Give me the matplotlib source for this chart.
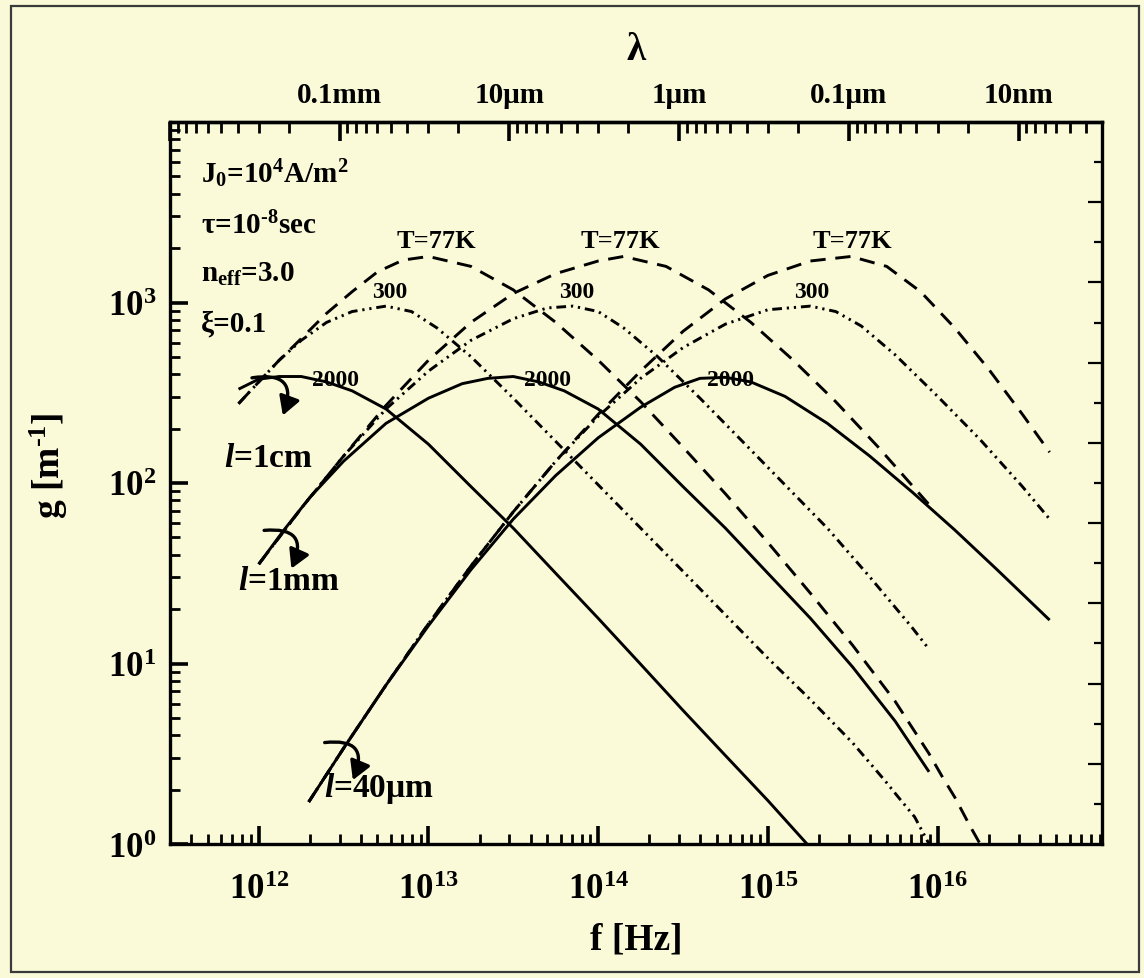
import matplotlib
matplotlib.use("Agg")
import matplotlib.pyplot as plt
import numpy as np
from matplotlib.patches import Rectangle, FancyArrowPatch
from matplotlib.ticker import LogLocator, NullFormatter

plt.rcParams['font.family'] = ['Liberation Serif', 'DejaVu Serif']
plt.rcParams['font.weight'] = 'bold'
plt.rcParams['axes.labelweight'] = 'bold'
plt.rcParams['mathtext.fontset'] = 'custom'
plt.rcParams['mathtext.rm'] = 'Liberation Serif:bold'
plt.rcParams['mathtext.bf'] = 'Liberation Serif:bold'
plt.rcParams['mathtext.it'] = 'Liberation Serif:italic:bold'
plt.rcParams['lines.scale_dashes'] = False

BG = '#FAFAD8'

# ---------------- data (f in Hz, g in 1/m) ----------------
# l = 1 cm
f_1cm_2000 = [7.6e11, 1e12, 1.32e12, 1.78e12, 2.51e12, 3.55e12, 5.62e12, 1e13, 1.78e13, 3.16e13, 5.62e13,
              1e14, 1.78e14, 3.16e14, 5.62e14, 1e15, 1.7e15]
g_1cm_2000 = [331, 376, 389, 389, 363, 324, 257, 164, 95.5, 56.2, 31.6, 17.8, 9.9, 5.5, 3.09, 1.74, 1.0]
f_1cm_300 = [7.6e11, 1e12, 1.32e12, 1.78e12, 2.51e12, 3.55e12, 5.62e12, 7.94e12, 1.12e13, 1.78e13, 3.16e13,
             5.62e13, 1e14, 1.78e14, 3.16e14, 5.62e14, 1e15, 1.78e15, 3.16e15, 4.9e15, 5.75e15, 7.33e15, 8.9e15]
g_1cm_300 = [275, 363, 479, 617, 776, 891, 955, 891, 724, 501, 295, 170, 97.7, 56.2, 32.4, 18.6, 10.7, 6.31,
             3.63, 2.24, 1.86, 1.41, 1.0]
f_1cm_77 = [7.6e11, 1e12, 1.32e12, 1.78e12, 2.51e12, 3.55e12, 5.01e12, 7.08e12, 1e13, 1.78e13, 3.16e13, 5.62e13,
            1e14, 1.78e14, 3.16e14, 5.62e14, 1e15, 1.78e15, 3.16e15, 5.62e15, 8.91e15, 1.07e16, 1.26e16,
            1.55e16, 1.78e16]
g_1cm_77 = [275, 363, 479, 631, 871, 1148, 1479, 1718, 1799, 1585, 1175, 776, 479, 282, 158, 87.1, 46.8, 24.5,
            12.6, 6.17, 3.16, 2.34, 1.82, 1.26, 1.0]

# l = 1 mm
f_1mm_2000 = [1e12, 1.41e12, 2e12, 3.16e12, 5.62e12, 1e13, 1.58e13, 2.24e13, 3.16e13, 4.47e13, 6.31e13, 1e14,
              1.78e14, 3.16e14, 5.62e14, 1e15, 1.78e15, 3.16e15, 5.62e15, 8.9e15]
g_1mm_2000 = [35.5, 55, 83.2, 132, 214, 295, 355, 380, 389, 363, 324, 257, 164, 95.5, 56.2, 31.6, 17.8, 9.55,
              4.79, 2.51]
f_1mm_300 = [1e12, 1.78e12, 3.16e12, 5.62e12, 1e13, 1.78e13, 3.16e13, 5.01e13, 7.08e13, 1e14, 1.41e14, 2.24e14,
             3.98e14, 7.08e14, 1.26e15, 2.24e15, 3.98e15, 7.08e15, 8.9e15]
g_1mm_300 = [35.5, 72.4, 141, 257, 417, 617, 813, 933, 955, 891, 724, 501, 295, 170, 97.7, 56.2, 30.2, 15.8, 12.0]
f_1mm_77 = [1e12, 1.78e12, 3.16e12, 5.62e12, 1e13, 1.78e13, 3.16e13, 5.62e13, 1e14, 1.41e14, 2.51e14, 4.47e14,
            7.94e14, 1.41e15, 2.51e15, 4.47e15, 8.9e15]
g_1mm_77 = [35.5, 72.4, 141, 269, 479, 776, 1122, 1445, 1698, 1799, 1585, 1175, 776, 479, 282, 158, 75.9]

# l = 40 um
f_40um_2000 = [1.97e12, 3.16e12, 5.62e12, 1e13, 1.78e13, 3.16e13, 5.62e13, 1e14, 1.78e14, 2.82e14, 3.98e14,
               5.62e14, 7.94e14, 1.26e15, 2.24e15, 3.98e15, 7.08e15, 1.26e16, 2.24e16, 4.57e16]
g_40um_2000 = [1.71, 3.39, 7.59, 16.2, 33.1, 63.1, 110, 178, 263, 339, 380, 385, 363, 302, 214, 141, 89.1, 55,
               33.1, 17.4]
f_40um_300 = [1.97e12, 3.16e12, 5.62e12, 1e13, 1.78e13, 3.16e13, 5.62e13, 1e14, 1.78e14, 3.16e14, 5.62e14, 1e15,
              1.78e15, 2.51e15, 3.55e15, 5.62e15, 1e16, 1.78e16, 3.16e16, 4.57e16]
g_40um_300 = [1.71, 3.39, 7.59, 16.6, 34.7, 69.2, 132, 234, 380, 562, 759, 912, 955, 891, 741, 513, 302, 174,
              95.5, 63.1]
f_40um_77 = [1.97e12, 3.16e12, 5.62e12, 1e13, 1.78e13, 3.16e13, 5.62e13, 1e14, 1.78e14, 3.16e14, 5.62e14, 1e15,
             1.78e15, 3.09e15, 5.01e15, 7.94e15, 1.26e16, 2e16, 3.16e16, 4.57e16]
g_40um_77 = [1.71, 3.39, 7.59, 16.6, 34.7, 69.2, 132, 240, 417, 692, 1047, 1413, 1698, 1799, 1585, 1148, 724,
             427, 240, 148]

x_ticks = [1e12, 1e13, 1e14, 1e15, 1e16]
x_tick_labels = [r'10$^{\mathregular{12}}$', r'10$^{\mathregular{13}}$', r'10$^{\mathregular{14}}$',
                 r'10$^{\mathregular{15}}$', r'10$^{\mathregular{16}}$']
y_ticks = [1, 10, 100, 1000]
y_tick_labels = [r'10$^{\mathregular{0}}$', r'10$^{\mathregular{1}}$', r'10$^{\mathregular{2}}$',
                 r'10$^{\mathregular{3}}$']
lam_ticks = [1e-3, 1e-4, 1e-5, 1e-6, 1e-7, 1e-8]
lam_tick_labels = ['', '0.1mm', '10μm', '1μm', '0.1μm', '10nm']
c_light = 3e8

# ---------------- figure ----------------
fig = plt.figure(figsize=(11.44, 9.79), dpi=100, facecolor=BG)
fig.patches.append(Rectangle((11/1144, 6/979), 1128/1144, 966/979, transform=fig.transFigure,
                             fill=False, edgecolor='#3a3a3a', linewidth=1.6))
ax = fig.add_axes([170/1144, 1 - 845/979, 932/1144, 722/979])
ax.set_facecolor(BG)
ax.set_xscale('log')
ax.set_yscale('log')
ax.set_xlim(3e11, 9.3e16)
ax.set_ylim(1, 1e4)

lw = 2.1
dash = (0, (11, 7))
dashdotdot = (0, (7, 3.5, 1.6, 3.5, 1.6, 3.5))
series = [
    (f_1cm_2000, g_1cm_2000, '-'), (f_1cm_300, g_1cm_300, dashdotdot), (f_1cm_77, g_1cm_77, dash),
    (f_1mm_2000, g_1mm_2000, '-'), (f_1mm_300, g_1mm_300, dashdotdot), (f_1mm_77, g_1mm_77, dash),
    (f_40um_2000, g_40um_2000, '-'), (f_40um_300, g_40um_300, dashdotdot), (f_40um_77, g_40um_77, dash),
]
for fx, gy, ls in series:
    ax.plot(fx, gy, color='black', linestyle=ls, linewidth=lw, solid_capstyle='butt',
            solid_joinstyle='round')

for sp in ax.spines.values():
    sp.set_linewidth(2.4)

ax.set_xticks(x_ticks)
ax.set_xticklabels(x_tick_labels, fontsize=25)
ax.xaxis.set_minor_locator(LogLocator(base=10, subs=np.arange(2, 10), numticks=20))
ax.xaxis.set_minor_formatter(NullFormatter())
ax.set_yticks(y_ticks)
ax.set_yticklabels(y_tick_labels, fontsize=25)
ax.yaxis.set_minor_locator(LogLocator(base=10, subs=np.arange(2, 10), numticks=20))
ax.yaxis.set_minor_formatter(NullFormatter())
ax.tick_params(axis='both', which='major', direction='in', length=13, width=2.6)
ax.tick_params(axis='both', which='minor', direction='in', length=7.5, width=2.0)
ax.tick_params(axis='x', which='both', top=False, bottom=True)
ax.tick_params(axis='x', which='major', pad=21)
ax.tick_params(axis='y', which='both', left=True, right=False)
ax.tick_params(axis='y', which='major', pad=10)

# top wavelength axis
secax = ax.secondary_xaxis('top', functions=(lambda f: c_light / f, lambda l: c_light / l))
secax.set_xticks(lam_ticks)
secax.set_xticklabels(lam_tick_labels, fontsize=21)
secax.xaxis.set_minor_locator(LogLocator(base=10, subs=np.arange(2, 10), numticks=20))
secax.xaxis.set_minor_formatter(NullFormatter())
secax.tick_params(which='major', direction='in', length=14, width=2.6, pad=10)
secax.tick_params(which='minor', direction='in', length=8, width=2.0)
secax.spines['top'].set_linewidth(2.4)
secax.set_xlabel('λ', fontsize=28, labelpad=16, fontweight='bold')

# right dummy linear axis (unlabelled ticks)
ax2 = ax.twinx()
ax2.set_ylim(0, 18)
ax2.set_yticks(np.arange(2, 17, 2))
ax2.set_yticks(np.arange(1, 18, 2), minor=True)
ax2.tick_params(axis='y', which='major', direction='in', length=10, width=1.6, labelright=False)
ax2.tick_params(axis='y', which='minor', direction='in', length=5.5, width=1.6)
for sp in ax2.spines.values():
    sp.set_visible(False)

ax.set_xlabel('f [Hz]', fontsize=27, labelpad=11, fontweight='bold')
ax.set_ylabel('g [m$^{\\mathregular{\u20101}}$]', fontsize=27, fontweight='bold')
ax.yaxis.set_label_coords(-0.107, 0.525)

# parameter texts
tk = dict(transform=ax.transAxes, fontsize=21, ha='left', va='center')
ax.text(0.033, 0.93, r'J$_{\mathregular{0}}$=10$^{\mathregular{4}}$A/m$^{\mathregular{2}}$', **tk)
ax.text(0.033, 0.857, 'τ=10$^{\\mathregular{\u20108}}$sec', **tk)
ax.text(0.033, 0.79, r'n$_{\mathregular{eff}}$=3.0', **tk)
ax.text(0.033, 0.722, 'ξ=0.1', **tk)

# curve labels
lbl = dict(transform=ax.transAxes, ha='center', va='center')
for xa in (0.286, 0.483, 0.732):
    ax.text(xa, 0.836, 'T=77K', fontsize=19, **lbl)
for xa in (0.236, 0.436, 0.689):
    ax.text(xa, 0.765, '300', fontsize=17, **lbl)
for xa in (0.178, 0.405, 0.601):
    ax.text(xa, 0.644, '2000', fontsize=17, **lbl)

ax.text(0.106, 0.535, r'$\mathit{l}$=1cm', fontsize=24, **lbl)
ax.text(0.128, 0.365, r'$\mathit{l}$=1mm', fontsize=24, **lbl)
ax.text(0.224, 0.078, r'$\mathit{l}$=40μm', fontsize=24, **lbl)

# curved arrows
def carrow(p0, p1):
    a = FancyArrowPatch(p0, p1, transform=ax.transAxes, connectionstyle='arc3,rad=-0.9',
                        arrowstyle='-|>,head_length=7,head_width=4', color='black', linewidth=2.4,
                        mutation_scale=1.6)
    ax.add_patch(a)

carrow((0.085, 0.645), (0.12, 0.59))
carrow((0.098, 0.434), (0.129, 0.378))
carrow((0.163, 0.14), (0.195, 0.085))

fig.savefig('out.png', dpi=100, facecolor=BG)
